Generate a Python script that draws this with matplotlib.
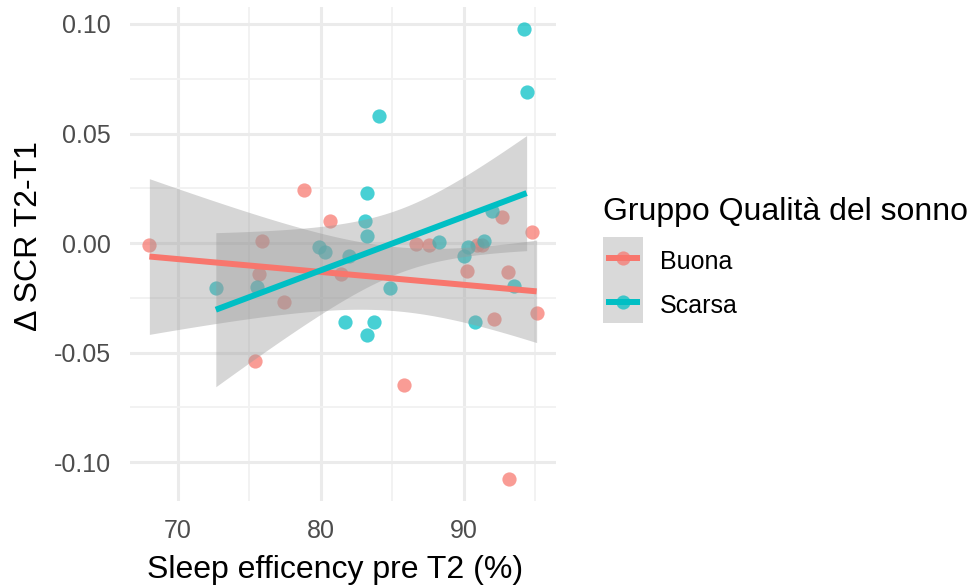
import numpy as np
import matplotlib
matplotlib.use("Agg")
import matplotlib.pyplot as plt
from matplotlib.patches import Rectangle
from matplotlib.lines import Line2D

plt.rcParams['font.family'] = ['Liberation Sans', 'DejaVu Sans']

# data
buona_x = [68.0, 78.85, 80.66, 75.85, 75.7, 77.4, 81.4, 75.4, 85.8, 86.65,
           87.6, 90.9, 91.25, 92.65, 94.8, 90.2, 93.1, 95.1, 92.1, 93.2]
buona_y = [-0.001, 0.024, 0.010, 0.001, -0.014, -0.027, -0.014, -0.054, -0.065, -0.0005,
           -0.001, -0.001, -0.001, 0.012, 0.005, -0.0128, -0.013, -0.032, -0.0346, -0.1075]
scarsa_x = [72.65, 75.5, 79.9, 80.3, 82.0, 81.7, 83.2, 83.7, 83.1, 83.2, 83.25,
            84.1, 84.85, 88.25, 90.05, 90.3, 91.45, 91.95, 93.55, 90.8, 94.25, 94.4]
scarsa_y = [-0.0205, -0.020, -0.002, -0.004, -0.006, -0.036, -0.042, -0.036, 0.010, 0.003, 0.023,
            0.058, -0.0205, 0.0005, -0.006, -0.002, 0.001, 0.0146, -0.0196, -0.036, 0.0975, 0.069]

groups = ["Buona", "Scarsa"]
colors = {"Buona": "#F8766D", "Scarsa": "#00BFC4"}
x_ticks = [70, 80, 90]
y_ticks = [-0.10, -0.05, 0.00, 0.05, 0.10]
y_ticklabels = ["-0.10", "-0.05", "0.00", "0.05", "0.10"]
# t quantiles (0.975) for the lm confidence band
t_quant = {"Buona": 2.101, "Scarsa": 2.086}


def lm_band(x, y, t, n_pts=80):
    x = np.asarray(x)
    y = np.asarray(y)
    n = len(x)
    b, a = np.polyfit(x, y, 1)
    resid = y - (a + b * x)
    s = np.sqrt(np.sum(resid ** 2) / (n - 2))
    xs = np.linspace(x.min(), x.max(), n_pts)
    fit = a + b * xs
    se = s * np.sqrt(1 / n + (xs - x.mean()) ** 2 / np.sum((x - x.mean()) ** 2))
    return xs, fit, fit - t * se, fit + t * se


fig = plt.figure(figsize=(9.78, 5.88), dpi=100)
ax = fig.add_axes([130 / 978, 87 / 588, 426 / 978, 494 / 588])

data = {"Buona": (buona_x, buona_y), "Scarsa": (scarsa_x, scarsa_y)}

for g in groups:
    x, y = data[g]
    ax.scatter(x, y, s=105, color=colors[g], alpha=0.72, linewidths=0, zorder=2)
for g in groups:
    x, y = data[g]
    xs, fit, lo, hi = lm_band(x, y, t_quant[g])
    ax.fill_between(xs, lo, hi, color="#999999", alpha=0.4, linewidth=0, zorder=3)
for g in groups:
    x, y = data[g]
    xs, fit, lo, hi = lm_band(x, y, t_quant[g])
    ax.plot(xs, fit, color=colors[g], lw=4.3, solid_capstyle="butt", zorder=4)

allx = buona_x + scarsa_x
ally = buona_y + scarsa_y
xr = max(allx) - min(allx)
yr = max(ally) - min(ally)
ax.set_xlim(min(allx) - 0.05 * xr, max(allx) + 0.05 * xr)
ax.set_ylim(min(ally) - 0.05 * yr, max(ally) + 0.05 * yr)

ax.set_xticks(x_ticks)
ax.set_xticks([75, 85, 95], minor=True)
ax.set_yticks(y_ticks)
ax.set_yticklabels(y_ticklabels)
ax.set_yticks([-0.075, -0.025, 0.025, 0.075], minor=True)
ax.grid(True, which="major", color="#EBEBEB", lw=2.2, zorder=0)
ax.grid(True, which="minor", color="#F2F2F2", lw=1.4, zorder=0)
ax.set_axisbelow(True)
for sp in ax.spines.values():
    sp.set_visible(False)
ax.tick_params(which="both", length=0, labelsize=18, labelcolor="#4D4D4D")
ax.tick_params(axis="x", pad=13)
ax.tick_params(axis="y", pad=14)

ax.set_xlabel("Sleep efficency pre T2 (%)", fontsize=23, va="baseline")
ax.xaxis.set_label_coords((335 - 130) / 426, (501 - 578) / 494)
ax.set_ylabel("Δ SCR T2-T1", fontsize=23, va="center", ha="center")
ax.yaxis.set_label_coords((29 - 130) / 426, (501 - 236) / 494)

# legend drawn by hand
fig.text(603 / 978, 1 - 220 / 588, "Gruppo Qualità del sonno", fontsize=23,
         ha="left", va="baseline")
fig.add_artist(Rectangle((603 / 978, 1 - 323 / 588), 40 / 978, 86 / 588,
                         transform=fig.transFigure, color="#D9D9D9", lw=0))
key_y = [258, 302]
label_base = [269, 313]
for i, g in enumerate(groups):
    yk = 1 - key_y[i] / 588
    fig.add_artist(Line2D([606 / 978, 640 / 978], [yk, yk], transform=fig.transFigure,
                          color=colors[g], lw=4.3, solid_capstyle="butt"))
    fig.add_artist(Line2D([623 / 978], [yk], transform=fig.transFigure, marker="o",
                          markersize=10.2, color=colors[g], alpha=0.72, lw=0,
                          markeredgewidth=0))
    fig.text(660 / 978, 1 - label_base[i] / 588, g, fontsize=18, ha="left", va="baseline")

fig.savefig("out.png", dpi=100)
